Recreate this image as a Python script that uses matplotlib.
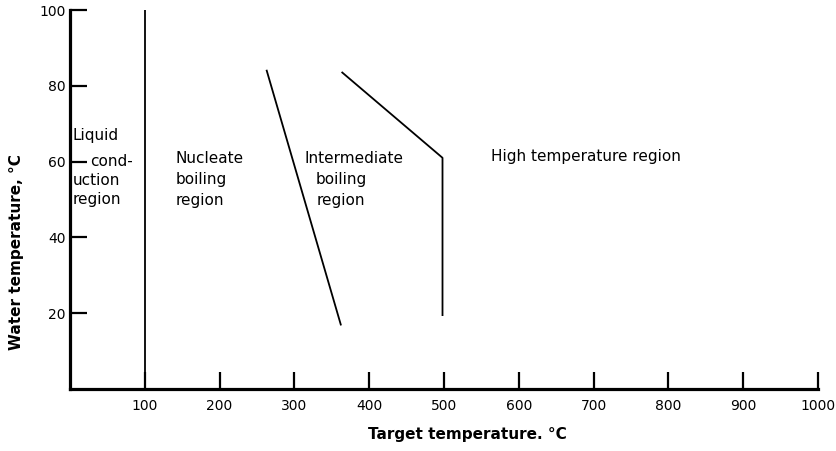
import matplotlib
matplotlib.use("Agg")
import matplotlib.pyplot as plt

# ---- data ----
x_ticks = [100, 200, 300, 400, 500, 600, 700, 800, 900, 1000]
y_ticks = [20, 40, 60, 80, 100]

liquid_boundary_x = [100, 100]
liquid_boundary_y = [0, 100]

nucleate_boundary_x = [263, 362]
nucleate_boundary_y = [84, 17]

high_boundary_x = [364, 498, 498]
high_boundary_y = [83.5, 61, 19.5]

# region labels: (text, x, y)
region_labels = [
    ("Liquid", 4, 65.7),
    ("cond-", 27, 58.8),
    ("uction", 4, 53.8),
    ("region", 4, 48.8),
    ("Nucleate", 141, 59.6),
    ("boiling", 141, 54.1),
    ("region", 141, 48.6),
    ("Intermediate", 313, 59.6),
    ("boiling", 329, 54.1),
    ("region", 330, 48.6),
    ("High temperature region", 563, 60.2),
]

plt.rcParams['font.family'] = ['DejaVu Sans']

fig = plt.figure(figsize=(8.36, 4.51), dpi=100)
ax = fig.add_axes([70/836, 1-389/451, (818-70)/836, (389-10)/451])

lw = 1.3
ax.plot(liquid_boundary_x, liquid_boundary_y, color='black', lw=lw, solid_capstyle='butt')
ax.plot(nucleate_boundary_x, nucleate_boundary_y, color='black', lw=lw)
ax.plot(high_boundary_x, high_boundary_y, color='black', lw=lw)

for txt, x, y in region_labels:
    ax.text(x, y, txt, fontsize=11, ha='left', va='baseline', color='black')

ax.set_xlim(0, 1000)
ax.set_ylim(0, 100)
ax.set_xticks(x_ticks)
ax.set_yticks(y_ticks)
ax.set_xticklabels([str(v) for v in x_ticks])
ax.set_yticklabels([str(v) for v in y_ticks])

for s in ['top', 'right']:
    ax.spines[s].set_visible(False)
for s in ['left', 'bottom']:
    ax.spines[s].set_linewidth(2.3)

ax.tick_params(axis='both', direction='in', length=12, width=1.6, labelsize=10)
ax.tick_params(axis='x', pad=7)
ax.tick_params(axis='y', pad=3)

ax.set_xlabel("Target temperature. °C", fontsize=11, fontweight='bold')
ax.set_ylabel("Water temperature, °C", fontsize=11, fontweight='bold')
ax.xaxis.set_label_coords(0.531, -0.121)
ax.xaxis.label.set_va('center')
ax.yaxis.set_label_coords(-0.071, 0.361)
ax.yaxis.label.set_va('center')

fig.savefig("out.png", dpi=100)
